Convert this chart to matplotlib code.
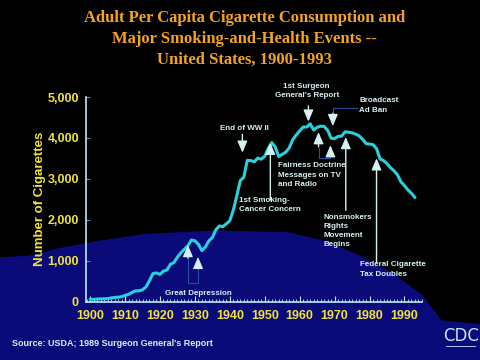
import matplotlib.pyplot as plt
from matplotlib.patches import Polygon
from matplotlib.ticker import FuncFormatter, MultipleLocator

# adult per capita cigarette consumption, 1900-1993
years = list(range(1900, 1994))
consumption = [
    54, 53, 60, 64, 66, 70, 86, 99, 105, 115,
    151, 173, 223, 260, 262, 285, 357, 509, 683, 698,
    665, 742, 770, 911, 951, 1085, 1191, 1279, 1366, 1504,
    1485, 1399, 1245, 1334, 1483, 1564, 1754, 1847, 1830, 1900,
    1976, 2236, 2585, 2956, 3039, 3449, 3446, 3416, 3505, 3480,
    3552, 3744, 3886, 3778, 3546, 3597, 3650, 3755, 3953, 4073,
    4171, 4266, 4265, 4345, 4194, 4258, 4287, 4280, 4186, 3993,
    3985, 4037, 4043, 4148, 4141, 4123, 4092, 4051, 3967, 3861,
    3849, 3836, 3739, 3488, 3446, 3370, 3274, 3197, 3096, 2926,
    2834, 2727, 2647, 2543,
]
yticks = [0, 1000, 2000, 3000, 4000, 5000]
xticks = list(range(1900, 2000, 10))

title = ("Adult Per Capita Cigarette Consumption and\n"
         "Major Smoking-and-Health Events --\n"
         "United States, 1900-1993")

NOTE = "#d6f1f1"
BRACKET = "#2b4d9c"
TICKLAB = "#f2e23a"

fig = plt.figure(figsize=(4.8, 3.6), dpi=100)
fig.patch.set_facecolor("black")

# ragged navy backdrop in the lower half
navy = [(0, 0), (0, 0.285), (0.06, 0.29), (0.12, 0.31), (0.2, 0.33), (0.3, 0.35),
        (0.45, 0.36), (0.6, 0.355), (0.68, 0.33), (0.75, 0.29), (0.82, 0.24),
        (0.88, 0.18), (0.92, 0.11), (1, 0.1), (1, 0)]
fig.add_artist(Polygon(navy, closed=True, transform=fig.transFigure,
                       facecolor="#0a0a78", edgecolor="none", zorder=0))

ax = fig.add_axes([0.179, 0.1625, 0.7, 0.568])
ax.set_facecolor("none")
ax.plot(years, consumption, color="#2ad0dc", lw=2.2, solid_capstyle="round")

ax.set_xlim(1898.8, 1995)
ax.set_ylim(0, 5000)
ax.set_xticks(xticks)
ax.xaxis.set_minor_locator(MultipleLocator(1))
ax.set_yticks(yticks)
ax.yaxis.set_major_formatter(FuncFormatter(lambda v, p: f"{int(v):,}"))

for s in ["top", "right"]:
    ax.spines[s].set_visible(False)
for s in ["left", "bottom"]:
    ax.spines[s].set_color("#bfe8f0")
    ax.spines[s].set_linewidth(1.2)

ax.tick_params(axis="x", which="major", direction="in", length=4, color="#bfe8f0",
               labelcolor=TICKLAB, labelsize=9, pad=6)
ax.tick_params(axis="x", which="minor", direction="in", length=2, color="#bfe8f0")
ax.tick_params(axis="y", direction="in", length=3, color="#4a8ad0",
               labelcolor=TICKLAB, labelsize=9, pad=5)
for lab in ax.get_xticklabels() + ax.get_yticklabels():
    lab.set_fontweight("bold")
    lab.set_family("Liberation Sans")

ax.set_ylabel("Number of Cigarettes", color=TICKLAB, fontsize=9.5,
              fontweight="bold", family="Liberation Sans", labelpad=1)

fig.text(0.51, 0.972, title, ha="center", va="top", color="#f3a420",
         fontsize=12, fontweight="bold", family="Liberation Serif", linespacing=1.42)


def arrow(x0, y0, x1, y1):
    ax.annotate("", xy=(x1, y1), xytext=(x0, y0), annotation_clip=False,
                arrowprops=dict(arrowstyle="-|>,head_length=0.7,head_width=0.3",
                                color=NOTE, lw=1, mutation_scale=10,
                                shrinkA=0, shrinkB=0))


def note(x, y, s, ha="left", va="top"):
    ax.text(x, y, s, ha=ha, va=va, color=NOTE, fontsize=5.8, fontweight="bold",
            family="Liberation Sans", linespacing=1.45, clip_on=False)


# 1st Surgeon General's Report
note(1962.0, 5150, "1st Surgeon\nGeneral's Report", ha="center", va="center")
arrow(1962.5, 4780, 1962.5, 4400)
# Broadcast Ad Ban
note(1977.0, 4790, "Broadcast\nAd Ban", va="center")
ax.plot([1976.3, 1969.5, 1969.5], [4720, 4720, 4550], color=BRACKET, lw=0.8, clip_on=False)
arrow(1969.5, 4600, 1969.5, 4290)
# End of WW II
note(1944.1, 4236, "End of WW II", ha="center", va="center")
arrow(1943.6, 4090, 1943.6, 3640)
# 1st Smoking-Cancer Concern
arrow(1951.6, 2480, 1951.6, 3880)
note(1942.6, 2560, "1st Smoking-\nCancer Concern")
# Fairness Doctrine
ax.plot([1965.4, 1965.4, 1968.8, 1968.8], [3750, 3500, 3500, 3550], color=BRACKET, lw=0.8)
arrow(1965.4, 3780, 1965.4, 4140)
arrow(1968.8, 3550, 1968.8, 3820)
note(1953.9, 3400, "Fairness Doctrine\nMessages on TV\nand Radio")
# Nonsmokers Rights Movement Begins
arrow(1973.2, 2230, 1973.2, 4020)
note(1966.8, 2150, "Nonsmokers\nRights\nMovement\nBegins")
# Federal Cigarette Tax Doubles
arrow(1982.0, 960, 1982.0, 3500)
note(1977.2, 980, "Federal Cigarette\nTax Doubles")
# Great Depression
ax.plot([1928.0, 1928.0, 1930.9, 1930.9], [1070, 450, 450, 820], color=BRACKET, lw=0.8)
arrow(1928.0, 1060, 1928.0, 1380)
arrow(1930.9, 810, 1930.9, 1090)
note(1921.4, 207, "Great Depression", va="center")

fig.text(0.025, 0.047, "Source: USDA; 1989 Surgeon General's Report", color=NOTE,
         fontsize=6.5, fontweight="bold", family="Liberation Sans", va="center")
fig.text(0.961, 0.068, "CDC", color="#bfe6f2", fontsize=12, family="DejaVu Sans",
         ha="center", va="center")
fig.add_artist(plt.Line2D([0.93, 0.99], [0.04, 0.04], color="#bfe6f2", lw=0.6))

fig.savefig("out.png", dpi=100, facecolor=fig.get_facecolor())
